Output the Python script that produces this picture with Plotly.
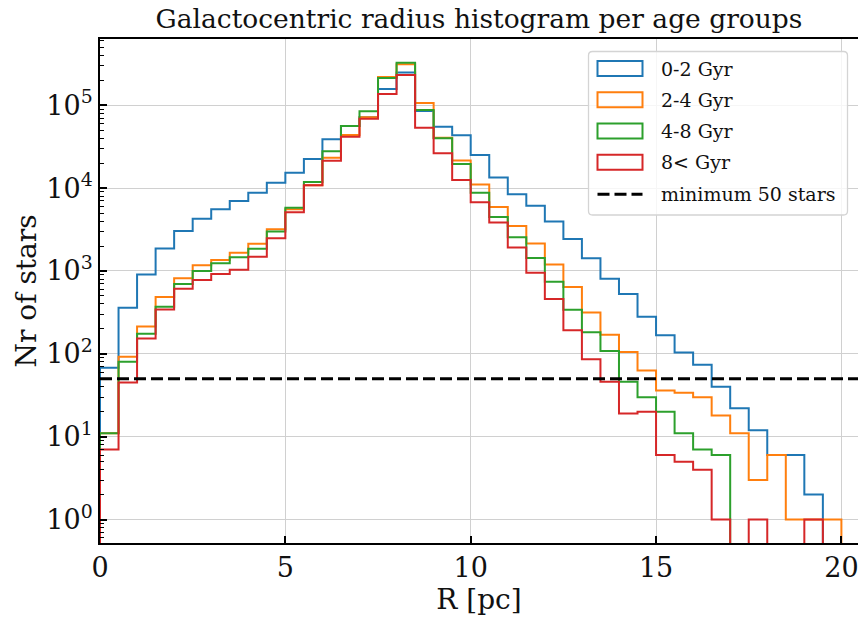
import numpy as np
import plotly.graph_objects as go

# Bin edges: 0.5 pc wide bins from 0 to 20 pc
bin_edges = np.arange(0, 20.5, 0.5)

# Star counts per radial bin for each age group
counts_0_2 = [68, 360, 910, 1870, 3030, 4260, 5550, 6980, 8800, 11600,
              15300, 22400, 38800, 56200, 71600, 157000, 248000, 85300, 55200, 43400,
              25100, 13400, 8420, 6130, 3960, 2430, 1420, 805, 526, 280,
              168, 104, 74, 40, 22, 12, 6, 6, 2, 0]
counts_2_4 = [11, 92, 214, 484, 820, 1170, 1354, 1660, 2130, 3200,
              5550, 10800, 23300, 43800, 71600, 220000, 313000, 106700, 40600, 21500,
              11100, 5920, 3500, 2150, 1200, 640, 315, 170, 105, 63,
              36, 34, 30, 18, 11, 3, 6, 1, 1, 1]
counts_4_8 = [11, 80, 175, 370, 695, 997, 1236, 1460, 1850, 3000,
              5800, 11900, 27800, 56200, 84700, 214000, 327000, 87700, 39900, 19600,
              8800, 4480, 2550, 1430, 740, 340, 182, 108, 46, 30,
              20, 11, 7, 6, 0, 0, 0, 0, 0, 0]
counts_8_plus = [7, 45, 153, 344, 610, 776, 917, 1035, 1486, 2480,
                 5100, 10800, 21400, 41800, 68900, 137000, 232000, 53600, 26300, 12500,
                 6760, 3860, 1920, 955, 458, 193, 86, 46, 19, 20,
                 6, 5, 4, 1, 0, 1, 0, 0, 1, 0]

group_labels = ["0-2 Gyr", "2-4 Gyr", "4-8 Gyr", "8< Gyr"]
group_colors = ["#1f77b4", "#ff7f0e", "#2ca02c", "#d62728"]
min_stars = 50
min_label = "minimum 50 stars"

title_text = "Galactocentric radius histogram per age groups"
x_label = "R [pc]"
y_label = "Nr of stars"
x_ticks = [0, 5, 10, 15, 20]
y_ticks = [1, 10, 100, 1000, 10000, 100000]
y_ticktext = ["10<sup>%d</sup>" % int(np.log10(v)) for v in y_ticks]

FONT = "DejaVu Serif"
TXT = "#111"
FLOOR = 1e-3  # empty bins fall below the visible log range


def step_xy(edges, counts):
    """Outline of a step histogram: up from the floor, across each bin, down at the end."""
    c = np.asarray(counts, dtype=float)
    c = np.where(c > 0, c, FLOOR)
    xs = np.concatenate([[edges[0]], edges, [edges[-1]]])
    ys = np.concatenate([[FLOOR], c, [c[-1]], [FLOOR]])
    return xs, ys


fig = go.Figure()
for counts, label, color in zip([counts_0_2, counts_2_4, counts_4_8, counts_8_plus],
                                group_labels, group_colors):
    xs, ys = step_xy(bin_edges, counts)
    fig.add_trace(go.Scatter(x=xs, y=ys, mode="lines", name=label,
                             line=dict(color=color, width=2, shape="hv"),
                             showlegend=False))

# Threshold line across the full axis
fig.add_trace(go.Scatter(x=[0, 21], y=[min_stars, min_stars], mode="lines",
                         line=dict(color="black", width=3, dash="12px,5px"),
                         showlegend=False, name=min_label))

# Plot area geometry (pixels)
W, H = 858, 624
L, R, T, B = 100, 0, 39, 81
pw, ph = W - L - R, H - T - B


def px(x):
    return (x - L) / pw


def py(y):
    return (H - B - y) / ph


shapes = []
annotations = []

# Legend frame with rounded corners
x0, x1, y0, y1 = px(588.5), px(847.5), py(51.5), py(215)
rx, ry = 4 / pw, 4 / ph
path = (f"M {x0+rx},{y0} L {x1-rx},{y0} Q {x1},{y0} {x1},{y0-ry} "
        f"L {x1},{y1+ry} Q {x1},{y1} {x1-rx},{y1} L {x0+rx},{y1} "
        f"Q {x0},{y1} {x0},{y1+ry} L {x0},{y0-ry} Q {x0},{y0} {x0+rx},{y0} Z")
shapes.append(dict(type="path", xref="paper", yref="paper", path=path,
                   fillcolor="rgba(255,255,255,0.8)",
                   line=dict(color="#d4d4d4", width=1.3), layer="above"))

row_centers = [68.5, 99.8, 131, 162.3, 194.3]
for yc, label, color in zip(row_centers[:4], group_labels, group_colors):
    shapes.append(dict(type="rect", xref="paper", yref="paper",
                       x0=px(597.5), x1=px(642.5), y0=py(yc - 7.5), y1=py(yc + 7.5),
                       line=dict(color=color, width=2), fillcolor="rgba(0,0,0,0)",
                       layer="above"))
    annotations.append(dict(xref="paper", yref="paper", x=px(659), y=py(yc),
                            text=label, showarrow=False, xanchor="left", yanchor="middle",
                            font=dict(family=FONT, size=19, color=TXT)))
shapes.append(dict(type="line", xref="paper", yref="paper",
                   x0=px(597.5), x1=px(642.5), y0=py(row_centers[4]), y1=py(row_centers[4]),
                   line=dict(color="black", width=3, dash="12px,5px"), layer="above"))
annotations.append(dict(xref="paper", yref="paper", x=px(659), y=py(row_centers[4]),
                        text=min_label, showarrow=False, xanchor="left", yanchor="middle",
                        font=dict(family=FONT, size=19, color=TXT)))

# minor ticks on the log axis
minor_vals = [m * 10 ** e for e in range(-1, 6) for m in range(2, 10)]

fig.update_layout(
    width=W, height=H,
    margin=dict(l=L, r=R, t=T, b=B),
    plot_bgcolor="white", paper_bgcolor="white",
    title=dict(text=title_text, x=(L + pw / 2) / W, xanchor="center",
               y=1 - 19 / H, yanchor="middle",
               font=dict(family=FONT, size=26.5, color=TXT)),
    shapes=shapes, annotations=annotations,
    xaxis=dict(range=[0, (W - L) / 37.07], tickvals=x_ticks,
               ticks="inside", ticklen=7, tickwidth=1.5, tickcolor="black",
               ticklabeloverflow="allow",
               showline=True, linecolor="black", linewidth=1.8, mirror=True,
               showgrid=True, gridcolor="#d0d0d0", gridwidth=1.3, zeroline=False,
               tickfont=dict(family=FONT, size=27, color=TXT),
               title=dict(text=x_label, font=dict(family=FONT, size=28, color=TXT),
                          standoff=4)),
    yaxis=dict(type="log", range=[-0.283, 5.80], tickvals=y_ticks, ticktext=y_ticktext,
               ticks="inside", ticklen=7, tickwidth=1.5, tickcolor="black",
               showline=True, linecolor="black", linewidth=1.8, mirror=False,
               showgrid=True, gridcolor="#d0d0d0", gridwidth=1.3, zeroline=False,
               minor=dict(tickvals=minor_vals, ticks="inside", ticklen=4,
                          tickwidth=1, tickcolor="black", showgrid=False),
               tickfont=dict(family=FONT, size=27, color=TXT),
               title=dict(text=y_label, font=dict(family=FONT, size=28, color=TXT),
                          standoff=2)),
)

fig.write_html("out.html")
